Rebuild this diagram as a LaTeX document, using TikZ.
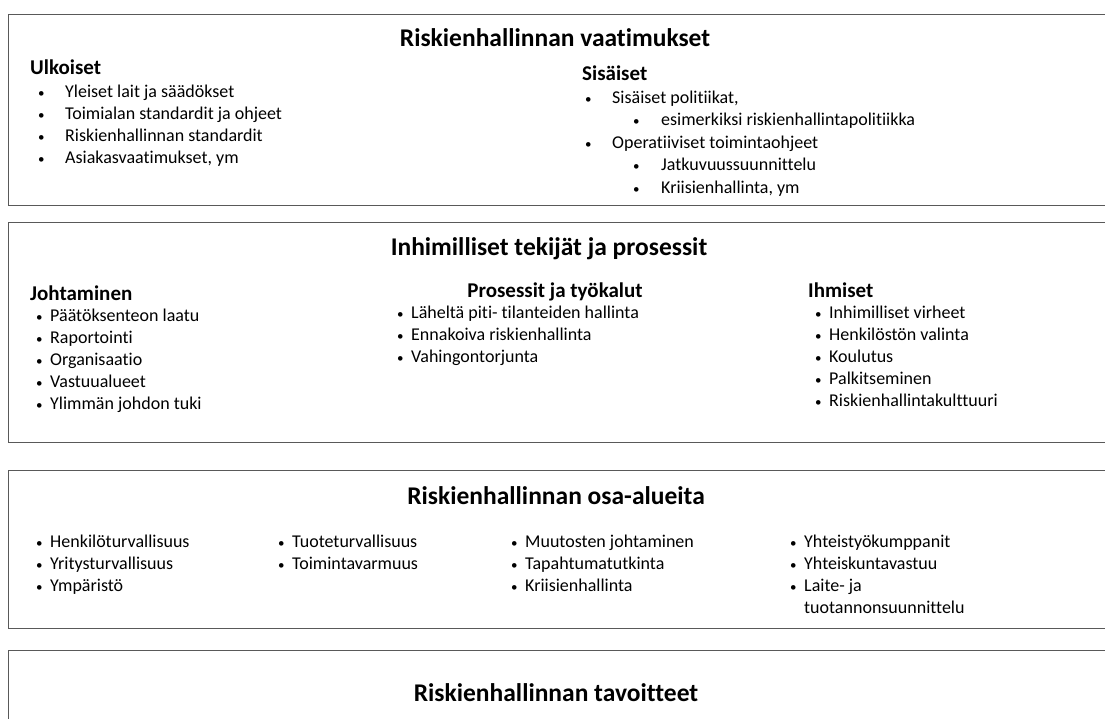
\documentclass[tikz,border=0pt]{standalone}
\usepackage{fontspec}
\setmainfont{Carlito}[Ligatures={NoCommon}]
\usetikzlibrary{positioning}

\newcommand{\dotmark}{{\fontsize{13}{13}\selectfont•}}
\newcommand{\bul}{\makebox[14pt][l]{\dotmark}}
\newcommand{\bulw}{\makebox[27pt][l]{\dotmark}}
\newcommand{\bulsub}{\hspace*{48pt}\makebox[28pt][l]{\dotmark}}

\begin{document}
\begin{tikzpicture}[x=1pt,y=-1pt,
panel/.style={draw=black!65,line width=1.3pt,anchor=north west,inner sep=0pt},
title/.style={font=\fontsize{25.5}{30}\selectfont\bfseries,anchor=base,inner sep=0pt},
head/.style={font=\fontsize{21}{25}\selectfont\bfseries,anchor=base west,inner sep=0pt},
items/.style={font=\fontsize{18}{22}\selectfont,align=left,anchor=base west,inner sep=0pt}]
\useasboundingbox (0,0) rectangle (1105,718);
\clip (0,0) rectangle (1105,718);
% four bands
\node[panel,minimum width=1120pt,minimum height=191pt] (req) at (8,14) {};
\node[panel,minimum width=1120pt,minimum height=220pt] (hum) at (8,222) {};
\node[panel,minimum width=1120pt,minimum height=158pt] (area) at (8,470) {};
\node[panel,minimum width=1120pt,minimum height=100pt] (goal) at (8,650) {};
% vaatimukset (base anchor = last line)
\node[title] (reqt) at (555,46) {Riskienhallinnan vaatimukset};
\node[head] (ext) at (30,74) {Ulkoiset};
\node[items] (extl) at (38,163) {\bulw Yleiset lait ja säädökset\\
\bulw Toimialan standardit ja ohjeet\\
\bulw Riskienhallinnan standardit\\
\bulw Asiakasvaatimukset, ym};
\node[head] (int) at (582,80) {Sisäiset};
\node[items,font=\fontsize{18}{22.5}\selectfont] (intl) at (585,193) {\bulw Sisäiset politiikat,\\
\bulsub esimerkiksi riskienhallintapolitiikka\\
\bulw Operatiiviset toimintaohjeet\\
\bulsub Jatkuvuussuunnittelu\\
\bulsub Kriisienhallinta, ym};
% inhimilliset tekijat
\node[title] (humt) at (549,255) {Inhimilliset tekijät ja prosessit};
\node[head] (lead) at (30,300) {Johtaminen};
\node[items] (leadl) at (36,409) {\bul Päätöksenteon laatu\\
\bul Raportointi\\
\bul Organisaatio\\
\bul Vastuualueet\\
\bul Ylimmän johdon tuki};
\node[head,anchor=base] (proc) at (555,297) {Prosessit ja työkalut};
\node[items] (procl) at (397,362) {\bul Läheltä piti- tilanteiden hallinta\\
\bul Ennakoiva riskienhallinta\\
\bul Vahingontorjunta};
\node[head] (ppl) at (808,297) {Ihmiset};
\node[items] (ppll) at (815,406) {\bul Inhimilliset virheet\\
\bul Henkilöstön valinta\\
\bul Koulutus\\
\bul Palkitseminen\\
\bul Riskienhallintakulttuuri};
% osa-alueet
\node[title] (areat) at (556,504) {Riskienhallinnan osa-alueita};
\node[items] (ar1) at (36,591) {\bul Henkilöturvallisuus\\
\bul Yritysturvallisuus\\
\bul Ympäristö};
\node[items] (ar2) at (278,569) {\bul Tuoteturvallisuus\\
\bul Toimintavarmuus};
\node[items] (ar3) at (511,591) {\bul Muutosten johtaminen\\
\bul Tapahtumatutkinta\\
\bul Kriisienhallinta};
\node[items] (ar4) at (790,613) {\bul Yhteistyökumppanit\\
\bul Yhteiskuntavastuu\\
\bul Laite- ja\\
\hspace*{14pt}tuotannonsuunnittelu};
% tavoitteet
\node[title] (goalt) at (556,701) {Riskienhallinnan tavoitteet};
\end{tikzpicture}
\end{document}
